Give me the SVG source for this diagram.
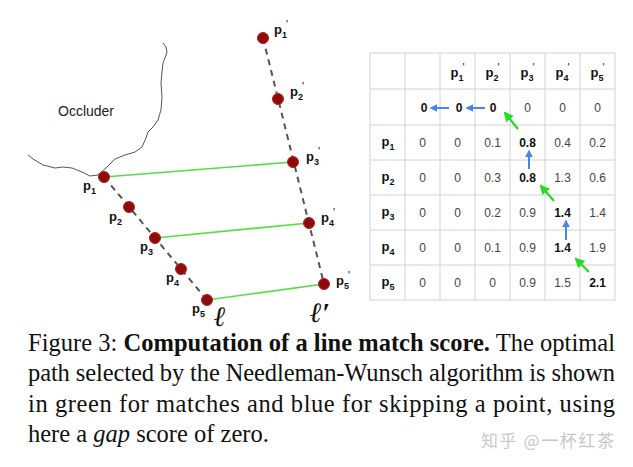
<svg xmlns="http://www.w3.org/2000/svg" width="633" height="467" viewBox="0 0 633 467">
<defs>
<style>
.lbl{font-family:"Liberation Sans",Arial,sans-serif;font-weight:bold;font-size:13px;fill:#111}
.sub{font-size:9px}
.pr{font-size:11px;font-weight:normal}
.pt{fill:#8e0b0b;stroke:#b52020;stroke-width:1}
.dash{stroke:#555;stroke-width:2;stroke-dasharray:6 5;fill:none}
.match{stroke:#55dd44;stroke-width:1.6;fill:none}
.grid{stroke:#d2d2d2;stroke-width:1;fill:none}
.num{font-family:"Liberation Sans",Arial,sans-serif;font-size:12px;fill:#444;text-anchor:middle}
.b{font-weight:bold;fill:#111}
.th{font-family:"Liberation Sans",Arial,sans-serif;font-size:13px;font-weight:bold;fill:#111;text-anchor:middle}
.ab{stroke:#4a86e8;stroke-width:2;fill:none}
.ag{stroke:#22dd22;stroke-width:2.2;fill:none}
.cap{font-family:"Liberation Serif","Times New Roman",serif;font-size:24.5px;fill:#111}
.ell{font-family:"Liberation Serif","DejaVu Serif",serif;font-style:italic;font-weight:bold;font-size:28px;fill:#111}
</style>
<marker id="mb" viewBox="0 0 10 10" refX="8" refY="5" markerWidth="4" markerHeight="4" orient="auto" markerUnits="strokeWidth"><path d="M0,0 L10,5 L0,10 z" fill="#4a86e8"/></marker>
<marker id="mg" viewBox="0 0 10 10" refX="8" refY="5" markerWidth="4.5" markerHeight="4.5" orient="auto" markerUnits="strokeWidth"><path d="M0,0 L10,5 L0,10 z" fill="#22dd22"/></marker>
</defs>
<rect width="633" height="467" fill="#fff"/>

<g id="occluder">
<polyline points="28,155 33,159 43,165 55,168 63,167 72,168 82,172 90,176 98,175 107,167 115,159 125,155 135,152 142,147 146,138 148,132 153,127 158,120 161,110 162,97 161,83 162,72 163,63 165,58 167,52 166,47 163,43" fill="none" stroke="#555" stroke-width="1" stroke-linejoin="round"/>
<text x="58" y="116" font-family="Liberation Sans,Arial,sans-serif" font-size="14" fill="#222">Occluder</text>
</g>

<g id="connectors">
<line class="dash" x1="104" y1="177" x2="207" y2="300"/>
<line class="dash" x1="263" y1="38" x2="324" y2="284"/>
<line class="match" x1="104" y1="177" x2="293" y2="162"/>
<line class="match" x1="155" y1="238" x2="309" y2="223"/>
<line class="match" x1="207" y1="300" x2="324" y2="284"/>
</g>

<g id="p1"><circle class="pt" cx="104" cy="177" r="5.5"/><text class="lbl" x="83" y="190">p<tspan class="sub" dy="4">1</tspan></text></g>
<g id="p2"><circle class="pt" cx="129" cy="207" r="5.5"/><text class="lbl" x="109" y="221">p<tspan class="sub" dy="4">2</tspan></text></g>
<g id="p3"><circle class="pt" cx="155" cy="238" r="5.5"/><text class="lbl" x="140" y="251">p<tspan class="sub" dy="4">3</tspan></text></g>
<g id="p4"><circle class="pt" cx="181" cy="269" r="5.5"/><text class="lbl" x="166" y="282">p<tspan class="sub" dy="4">4</tspan></text></g>
<g id="p5"><circle class="pt" cx="207" cy="300" r="5.5"/><text class="lbl" x="192" y="313">p<tspan class="sub" dy="4">5</tspan></text></g>

<g id="p1p"><circle class="pt" cx="263" cy="38" r="5.5"/><text class="lbl" x="274" y="34">p<tspan class="sub" dy="4">1</tspan><tspan class="pr" dy="-10" dx="-1">'</tspan></text></g>
<g id="p2p"><circle class="pt" cx="278" cy="99" r="5.5"/><text class="lbl" x="290" y="96">p<tspan class="sub" dy="4">2</tspan><tspan class="pr" dy="-10" dx="-1">'</tspan></text></g>
<g id="p3p"><circle class="pt" cx="293" cy="162" r="5.5"/><text class="lbl" x="306" y="161">p<tspan class="sub" dy="4">3</tspan><tspan class="pr" dy="-10" dx="-1">'</tspan></text></g>
<g id="p4p"><circle class="pt" cx="309" cy="223" r="5.5"/><text class="lbl" x="321" y="222">p<tspan class="sub" dy="4">4</tspan><tspan class="pr" dy="-10" dx="-1">'</tspan></text></g>
<g id="p5p"><circle class="pt" cx="324" cy="284" r="5.5"/><text class="lbl" x="336" y="285">p<tspan class="sub" dy="4">5</tspan><tspan class="pr" dy="-10" dx="-1">'</tspan></text></g>

<g id="lines-labels">
<text class="ell" x="214" y="326">ℓ</text>
<text class="ell" x="310" y="322">ℓ′</text>
</g>

<g id="table">
<rect class="grid" x="370" y="53" width="245" height="247"/>
<path class="grid" d="M405,53V300 M440,53V300 M475,53V300 M510,53V300 M545,53V300 M580,53V300 M370,89H615 M370,125H615 M370,160H615 M370,195H615 M370,230H615 M370,265H615"/>
<text class="th" x="457.5" y="77">p<tspan class="sub" dy="4">1</tspan><tspan class="pr" dy="-10" dx="-1">'</tspan></text>
<text class="th" x="492.5" y="77">p<tspan class="sub" dy="4">2</tspan><tspan class="pr" dy="-10" dx="-1">'</tspan></text>
<text class="th" x="527.5" y="77">p<tspan class="sub" dy="4">3</tspan><tspan class="pr" dy="-10" dx="-1">'</tspan></text>
<text class="th" x="562.5" y="77">p<tspan class="sub" dy="4">4</tspan><tspan class="pr" dy="-10" dx="-1">'</tspan></text>
<text class="th" x="597.5" y="77">p<tspan class="sub" dy="4">5</tspan><tspan class="pr" dy="-10" dx="-1">'</tspan></text>

<text class="num b" x="424" y="112">0</text><text class="num b" x="459" y="112">0</text><text class="num b" x="493" y="112">0</text><text class="num" x="527.5" y="112">0</text><text class="num" x="562.5" y="112">0</text><text class="num" x="597.5" y="112">0</text>

<text class="th" x="388" y="146">p<tspan class="sub" dy="4">1</tspan></text>
<text class="num" x="422.5" y="147">0</text><text class="num" x="457.5" y="147">0</text><text class="num" x="492.5" y="147">0.1</text><text class="num b" x="527.5" y="147">0.8</text><text class="num" x="562.5" y="147">0.4</text><text class="num" x="597.5" y="147">0.2</text>

<text class="th" x="388" y="181">p<tspan class="sub" dy="4">2</tspan></text>
<text class="num" x="422.5" y="182">0</text><text class="num" x="457.5" y="182">0</text><text class="num" x="492.5" y="182">0.3</text><text class="num b" x="527.5" y="182">0.8</text><text class="num" x="562.5" y="182">1.3</text><text class="num" x="597.5" y="182">0.6</text>

<text class="th" x="388" y="216">p<tspan class="sub" dy="4">3</tspan></text>
<text class="num" x="422.5" y="217">0</text><text class="num" x="457.5" y="217">0</text><text class="num" x="492.5" y="217">0.2</text><text class="num" x="527.5" y="217">0.9</text><text class="num b" x="562.5" y="217">1.4</text><text class="num" x="597.5" y="217">1.4</text>

<text class="th" x="388" y="251">p<tspan class="sub" dy="4">4</tspan></text>
<text class="num" x="422.5" y="252">0</text><text class="num" x="457.5" y="252">0</text><text class="num" x="492.5" y="252">0.1</text><text class="num" x="527.5" y="252">0.9</text><text class="num b" x="562.5" y="252">1.4</text><text class="num" x="597.5" y="252">1.9</text>

<text class="th" x="388" y="286">p<tspan class="sub" dy="4">5</tspan></text>
<text class="num" x="422.5" y="287">0</text><text class="num" x="457.5" y="287">0</text><text class="num" x="492.5" y="287">0</text><text class="num" x="527.5" y="287">0.9</text><text class="num" x="562.5" y="287">1.5</text><text class="num b" x="597.5" y="287">2.1</text>
</g>

<g id="path-arrows">
<line class="ab" x1="449" y1="108" x2="431" y2="108" marker-end="url(#mb)"/>
<line class="ab" x1="485" y1="108" x2="467" y2="108" marker-end="url(#mb)"/>
<line class="ag" x1="518" y1="129" x2="505" y2="113" marker-end="url(#mg)"/>
<line class="ab" x1="529" y1="169" x2="529" y2="151" marker-end="url(#mb)"/>
<line class="ag" x1="554" y1="201" x2="541" y2="186" marker-end="url(#mg)"/>
<line class="ab" x1="566" y1="240" x2="566" y2="221" marker-end="url(#mb)"/>
<line class="ag" x1="589" y1="272" x2="576" y2="259" marker-end="url(#mg)"/>
</g>

<g id="caption">
<text class="cap" x="28" y="351" textLength="587" lengthAdjust="spacing">Figure 3: <tspan font-weight="bold">Computation of a line match score.</tspan> The optimal</text>
<text class="cap" x="28" y="381" textLength="587" lengthAdjust="spacing">path selected by the Needleman-Wunsch algorithm is shown</text>
<text class="cap" x="28" y="412" textLength="587" lengthAdjust="spacing">in green for matches and blue for skipping a point, using</text>
<text class="cap" x="28" y="442">here a <tspan font-style="italic">gap</tspan> score of zero.</text>
<text x="481" y="447" font-family="Noto Sans CJK SC,sans-serif" font-size="17" fill="#c8c8c8" textLength="133" lengthAdjust="spacing">知乎 @一杯红茶</text>
</g>
</svg>
